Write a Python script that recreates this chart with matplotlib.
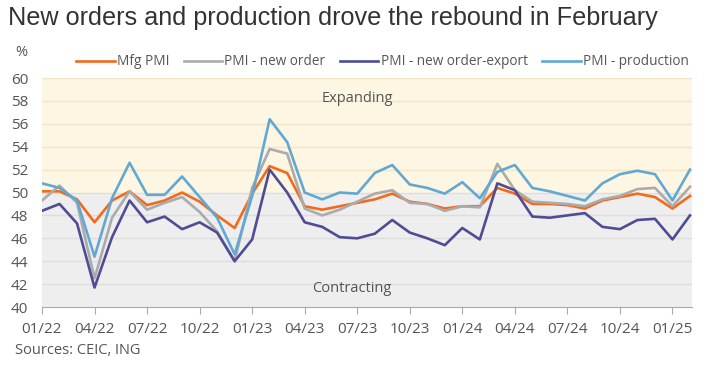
import matplotlib
matplotlib.use("Agg")
import matplotlib.pyplot as plt

# monthly values, Jan 2022 .. Feb 2025
months = ["01/22", "02/22", "03/22", "04/22", "05/22", "06/22", "07/22", "08/22", "09/22",
          "10/22", "11/22", "12/22", "01/23", "02/23", "03/23", "04/23", "05/23", "06/23",
          "07/23", "08/23", "09/23", "10/23", "11/23", "12/23", "01/24", "02/24", "03/24",
          "04/24", "05/24", "06/24", "07/24", "08/24", "09/24", "10/24", "11/24", "12/24",
          "01/25", "02/25"]

mfg_pmi = [50.1, 50.1, 49.4, 47.4, 49.3, 50.1, 48.9, 49.3, 50.0, 49.2, 48.0, 46.9,
           49.9, 52.3, 51.7, 48.8, 48.5, 48.8, 49.1, 49.4, 49.9, 49.2, 49.0, 48.6,
           48.8, 48.8, 50.4, 49.9, 49.0, 49.0, 48.9, 48.6, 49.3, 49.6, 49.9, 49.6,
           48.6, 49.7]
new_order = [49.3, 50.6, 49.1, 42.5, 47.8, 50.1, 48.5, 49.1, 49.6, 48.3, 46.6, 44.0,
             50.4, 53.8, 53.4, 48.6, 48.0, 48.5, 49.2, 49.9, 50.2, 49.1, 49.0, 48.4,
             48.8, 48.7, 52.5, 50.2, 49.2, 49.1, 49.0, 48.8, 49.4, 49.7, 50.3, 50.4,
             48.8, 50.5]
new_export = [48.4, 49.0, 47.3, 41.7, 46.1, 49.3, 47.4, 47.9, 46.8, 47.4, 46.5, 44.0,
              45.9, 52.0, 50.0, 47.4, 47.0, 46.1, 46.0, 46.4, 47.6, 46.5, 46.0, 45.4,
              46.9, 45.9, 50.8, 50.2, 47.9, 47.8, 48.0, 48.2, 47.0, 46.8, 47.6, 47.7,
              45.9, 48.0]
production = [50.8, 50.4, 49.3, 44.4, 49.5, 52.6, 49.8, 49.8, 51.4, 49.6, 47.8, 44.6,
              49.7, 56.4, 54.4, 50.0, 49.4, 50.0, 49.9, 51.7, 52.4, 50.7, 50.4, 49.9,
              50.9, 49.5, 51.8, 52.4, 50.4, 50.1, 49.7, 49.3, 50.8, 51.6, 51.9, 51.6,
              49.3, 52.0]

series = [
    ("Mfg PMI", mfg_pmi, "#F26A1B"),
    ("PMI - new order", new_order, "#ABABAB"),
    ("PMI - new order-export", new_export, "#4F4C94"),
    ("PMI - production", production, "#62A8D2"),
]

tick_pos = list(range(0, 37, 3))
text_col = "#555555"
font = "Open Sans"

fig = plt.figure(figsize=(7.07, 3.69), dpi=100)
ax = fig.add_axes([0.0594, 0.168, 0.919, 0.6206])

# expanding / contracting bands
ax.axhspan(50, 60, color="#FDF6E3", zorder=0, lw=0)
ax.axhspan(40, 50, color="#EEEEEE", zorder=0, lw=0)
for y in range(42, 61, 2):
    ax.axhline(y, color="#F1E6C9" if y > 50 else "#DEDEDE", lw=1.0, zorder=1)

x = list(range(len(months)))
for name, vals, col in series:
    ax.plot(x, vals, color=col, lw=1.9, label=name, zorder=3)

ax.set_xlim(0, 37.1)
ax.set_ylim(40, 60)
ax.set_yticks(range(40, 61, 2))
ax.set_xticks(tick_pos)
ax.set_xticklabels([months[i] for i in tick_pos])

for s in ["top", "right", "left"]:
    ax.spines[s].set_visible(False)
ax.spines["bottom"].set_color("#AAAAAA")
ax.tick_params(axis="y", length=0, pad=10, labelsize=11, labelcolor=text_col)
ax.tick_params(axis="x", length=5, color="#AAAAAA", pad=6, labelsize=11, labelcolor=text_col)
for lab in ax.get_xticklabels() + ax.get_yticklabels():
    lab.set_family(font)

ax.text(18.0, 58.2, "Expanding", ha="center", va="center", fontsize=10.5,
        color=text_col, family=font, zorder=4)
ax.text(17.7, 41.6, "Contracting", ha="center", va="center", fontsize=10.5,
        color=text_col, family=font, zorder=4)

fig.text(0.011, 0.952, "New orders and production drove the rebound in February",
         fontsize=18.2, color="#333333", family="Liberation Sans", va="center")
fig.text(0.022, 0.858, "%", fontsize=10.5, color=text_col, family=font, va="center")
fig.text(0.021, 0.05, "Sources: CEIC, ING", fontsize=10.5, color=text_col,
         family=font, va="center")

leg = fig.legend(loc="center", bbox_to_anchor=(0.541, 0.832), ncol=4, frameon=False,
                 handlelength=2.8, handletextpad=0.15, columnspacing=1.1,
                 prop={"family": font, "size": 9.8})
for t in leg.get_texts():
    t.set_color(text_col)

fig.savefig("out.png", dpi=100)
